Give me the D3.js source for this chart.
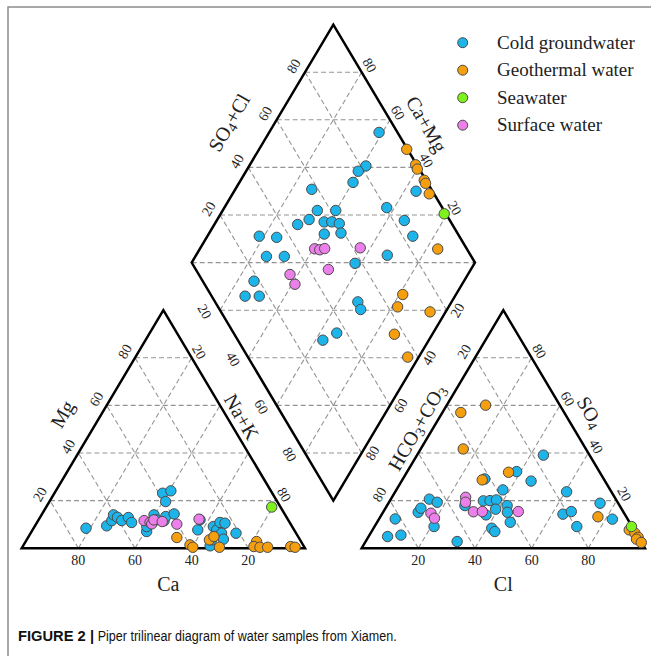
<!DOCTYPE html>
<html><head><meta charset="utf-8">
<script src="https://cdn.jsdelivr.net/npm/d3@7"></script>
<style>body{margin:0;background:#fff}svg{display:block}</style>
</head><body>
<svg id="chart" width="651" height="656"></svg>
<script>
// ---------- data ----------
const gridLevels = [20, 40, 60, 80];
const seriesNames = ["Cold groundwater", "Geothermal water", "Seawater", "Surface water"];

// cation triangle: [Mg %, Na+K %]
const coldCation = [[8.4,18.5],[9.4,25.3],[11.6,26],[14,25.4],[13,27.3],[11.6,29.5],[12.9,31.2],[10.8,33.4],[7,40.6],[9.1,39.6],[14,39.7],[11.9,41.6],[11.5,44.5],[13.3,44.2],[14.4,46.6],[23.1,38.2],[24.1,40.6],[19.6,41],[7.7,58.3],[11.9,57],[9.1,63.1],[7.7,65],[10.8,64.6],[10.5,66.5],[6.3,67.4],[3.8,69.3],[1,66],[3.5,65.3],[6.3,72.5]];
const geoCation = [[4.5,52.5],[1.4,58.7],[0.4,60.2],[3.5,64.5],[4.9,65.4],[0.4,69.6],[2.8,81.5],[0.7,81.6],[0.4,83.9],[0.4,86.6],[0.7,94.6],[0.4,96.3]];
const seaCation = [[17.3,79.6]];
const surfCation = [[11.6,37.4],[10.8,39.9],[10.2,40.8],[11.9,40.7],[11.2,44],[10.1,49.7],[12.2,56.5]];

// anion triangle: [SO4 %, Cl %]
const coldAnion = [[4.9,6.7],[5.5,11.1],[12.3,5.7],[15.1,12.4],[16.8,12.5],[20.6,13.6],[19.3,17],[9.1,21],[2.8,32.3],[17.9,27.5],[19.9,33],[20,35.3],[20.3,37.4],[16.4,39.1],[14,36.9],[8.4,41.7],[7,43.5],[24.5,37.6],[17.9,42.4],[15.1,43.9],[10.9,47],[32.2,38.6],[29.1,28.9],[28.2,45.7],[39.1,44.6],[23.7,60.5],[14.3,63.9],[15.4,66.3],[9.1,71.4],[18.9,74.7],[12.2,82.4]];
const geoAnion = [[60.1,13.7],[57,6.5],[41.7,15],[28.7,28.2],[31.9,35.9],[13.2,76.8],[7.7,90.6],[6.3,93.3],[4.6,95.3],[3.8,95.1],[2.4,97.5]];
const seaAnion = [[9.1,90.7]];
const surfAnion = [[21.4,26],[19.3,27],[15.3,31.8],[15.4,34.9],[15.4,47.6],[14.7,17.1],[12.6,19.4]];

// diamond: [Na+K %, SO4+Cl %]
const coldDiamond = [[38.8,93.5],[41.2,81.8],[39.6,78],[40.1,73.8],[64.2,94.2],[27,57.8],[57.3,80.4],[33.4,55.3],[39.9,61.8],[32.4,50.5],[38.2,55.3],[40.9,58],[43.9,60.3],[29.4,45.4],[46.5,58.9],[40.8,52.8],[66.2,83.9],[72.5,83.6],[18.3,29.4],[24.7,35.3],[67.5,70.6],[25.1,27.7],[31.4,34],[57.8,57.5],[25.9,18.1],[25.9,11.8],[30.9,16.8],[66.9,50.4],[69.5,49.8],[62.6,30],[66,36.4]];
const geoDiamond = [[52.1,99.7],[58.5,99.6],[60,99.3],[64.8,99.4],[65.9,99.2],[69.4,98.3],[84,89.7],[81.2,67.8],[82,63.4],[94.5,73.8],[86.6,56.5],[96.1,56.4]];
const seaDiamond = [[78.9,99.4]];
const surfDiamond = [[40.5,46.3],[42.5,47.9],[44,49.9],[56.4,62.6],[49.7,46.8],[37.2,32.2],[41,31.9]];

// ---------- styles / layout ----------
const colors = ["#1db4ea", "#f59f0f", "#7df21c", "#ec80ea"];
const serif = "'Liberation Serif','Times New Roman',serif";
const svg = d3.select("#chart");

const side = 283.3, tall = 238, ox = 21.7, oy = 548.2;
const x = d3.scaleLinear().domain([0, 2.2]).range([ox, ox + 2.2 * side]);
const y = d3.scaleLinear().domain([0, 2.2]).range([oy, oy - 2.2 * tall]);
const P = (u, v) => [x(u), y(v)];

const cationXY = d => P(d[1] / 100 + d[0] / 200, d[0] / 100);
const anionXY = d => P(1.2 + d[1] / 100 + d[0] / 200, d[0] / 100);
const diamondXY = d => { const n = d[0] / 100, a = d[1] / 100; return P(0.6 + (n + a) / 2, 1.2 + a - n); };

// frame
svg.append("path").attr("d", "M8,656V7H651").attr("fill", "none").attr("stroke", "#8c8c8c").attr("stroke-width", 1.5);

// ---------- grid ----------
const gridG = svg.append("g").attr("stroke", "#949494").attr("stroke-width", 1.1).attr("stroke-dasharray", "5,3").attr("fill", "none");
const seg = (a, b) => gridG.append("line").attr("x1", a[0]).attr("y1", a[1]).attr("x2", b[0]).attr("y2", b[1]);
gridLevels.forEach(k => {
  const f = k / 100;
  [0, 1.2].forEach(s0 => {
    seg(P(s0 + f / 2, f), P(s0 + 1 - f / 2, f));
    seg(P(s0 + f, 0), P(s0 + f + (1 - f) / 2, 1 - f));
    seg(P(s0 + 1 - f, 0), P(s0 + (1 - f) / 2, 1 - f));
  });
  // diamond
  seg(P(0.6 + f / 2, 1.2 - f), P(1.1 + f / 2, 2.2 - f));
  seg(P(0.6 + f / 2, 1.2 + f), P(1.1 + f / 2, 0.2 + f));
});
[-80, -60, -40, -20, 0, 20, 40, 60, 80].forEach(k => {
  const v = 1.2 + k / 100, hw = 0.5 * (1 - Math.abs(k) / 100);
  seg(P(1.1 - hw, v), P(1.1 + hw, v));
});

// ---------- outlines ----------
const line = d3.line();
const outline = pts => svg.append("path").attr("d", line(pts.map(p => P(p[0], p[1]))) + "Z")
  .attr("fill", "none").attr("stroke", "#000").attr("stroke-width", 2.5).attr("stroke-linejoin", "miter");
outline([[0, 0], [1, 0], [0.5, 1]]);
outline([[1.2, 0], [2.2, 0], [1.7, 1]]);
outline([[0.6, 1.2], [1.1, 2.2], [1.6, 1.2], [1.1, 0.2]]);

// ---------- tick labels ----------
const labG = svg.append("g").attr("font-family", serif).attr("font-size", 14).attr("fill", "#222")
  .attr("text-anchor", "middle").attr("dominant-baseline", "central");
function tick(pt, dx, dy, rot, txt) {
  const tx = pt[0] + dx, ty = pt[1] + dy;
  labG.append("text").attr("x", tx).attr("y", ty).attr("transform", `rotate(${rot},${tx},${ty})`).text(txt);
}
gridLevels.forEach(k => {
  const f = k / 100;
  tick(P(1 - f, 0), 0, 12.5, 0, k);                 // Ca
  tick(P(1.2 + f, 0), 0, 12.5, 0, k);               // Cl
  tick(P(f / 2, f), -10, -6.2, -60, k);             // Mg
  if (k === 20 || k === 80) tick(P(f + (1 - f) / 2, 1 - f), 7.3, -5.8, 60, k);       // Na+K
  if (k === 20 || k === 80) tick(P(1.2 + (1 - f) / 2, 1 - f), -10.5, -6, -60, k);    // HCO3
  tick(P(1.2 + 1 - f + f / 2, f), 7.5, -6.5, 60, k);  // SO4
  tick(P(0.6 + f / 2, 1.2 + f), -11.2, -6, -60, k);   // diamond SO4+Cl
  tick(P(1.1 + (1 - f) / 2, 2.2 - (1 - f)), 7.7, -7, 60, k); // diamond Ca+Mg
  tick(P(0.6 + f / 2, 1.2 - f), -15.5, 1.5, 60, k);   // diamond Na+K
  tick(P(1.1 + (1 - f) / 2, 0.2 + (1 - f)), 11, 0.3, -60, k); // diamond HCO3
});

// ---------- axis titles ----------
const titG = svg.append("g").attr("font-family", serif).attr("font-size", 20).attr("fill", "#222")
  .attr("text-anchor", "middle").attr("dominant-baseline", "central");
function title(pt, dx, dy, rot, parts) {
  const tx = pt[0] + dx, ty = pt[1] + dy;
  const t = titG.append("text").attr("x", tx).attr("y", ty).attr("transform", `rotate(${rot},${tx},${ty})`);
  parts.forEach(p => {
    const s = t.append("tspan").text(p[0]);
    if (p[1]) s.attr("font-size", 14).attr("dy", 5);
    if (p[2]) s.attr("dy", -5);
  });
}
title(P(0.5, 0), 5, 36, 0, [["Ca"]]);
title(P(1.7, 0), 0, 36, 0, [["Cl"]]);
title(P(0.25, 0.5), -30.2, -15.2, -60, [["Mg"]]);
title(P(0.75, 0.5), 7.5, -12.5, 60, [["Na+K"]]);
title(P(1.45, 0.5), -15.8, -1.7, -60, [["HCO"], ["3", 1], ["+CO", 0, 1], ["3", 1]]);
title(P(1.95, 0.5), 16, -17, 60, [["SO"], ["4", 1]]);
title(P(0.85, 1.7), -33.5, -21, -60, [["SO"], ["4", 1], ["+Cl", 0, 1]]);
title(P(1.35, 1.7), 22.5, -19.4, 60, [["Ca+Mg"]]);

// ---------- points ----------
const groups = [
  [coldCation, coldAnion, coldDiamond],
  [geoCation, geoAnion, geoDiamond],
  [seaCation, seaAnion, seaDiamond],
  [surfCation, surfAnion, surfDiamond]
];
const ptG = svg.append("g").attr("stroke", "#4a4a4a").attr("stroke-width", 1);
groups.forEach((g, i) => {
  const all = [...g[0].map(cationXY), ...g[1].map(anionXY), ...g[2].map(diamondXY)];
  ptG.selectAll(null).data(all).enter().append("circle")
    .attr("cx", d => d[0]).attr("cy", d => d[1]).attr("r", 5.2).attr("fill", colors[i]);
});

// ---------- legend ----------
const leg = svg.append("g").attr("font-family", serif).attr("font-size", 19).attr("fill", "#222");
seriesNames.forEach((nm, i) => {
  const cy = 42.7 + i * 27.5;
  leg.append("circle").attr("cx", 462.7).attr("cy", cy).attr("r", 5).attr("fill", colors[i]).attr("stroke", "#4a4a4a").attr("stroke-width", 1);
  leg.append("text").attr("x", 497).attr("y", cy + 5.8).text(nm);
});

// ---------- caption ----------
const cap = svg.append("g").attr("font-family", "'Liberation Sans',Arial,sans-serif").attr("font-size", 14).attr("fill", "#111");
cap.append("text").attr("x", 18).attr("y", 640.5).attr("font-weight", "bold").attr("textLength", 76).attr("lengthAdjust", "spacingAndGlyphs").text("FIGURE 2 |");
cap.append("text").attr("x", 97.7).attr("y", 640.5).attr("textLength", 299).attr("lengthAdjust", "spacingAndGlyphs").text("Piper trilinear diagram of water samples from Xiamen.");
</script>
</body></html>
